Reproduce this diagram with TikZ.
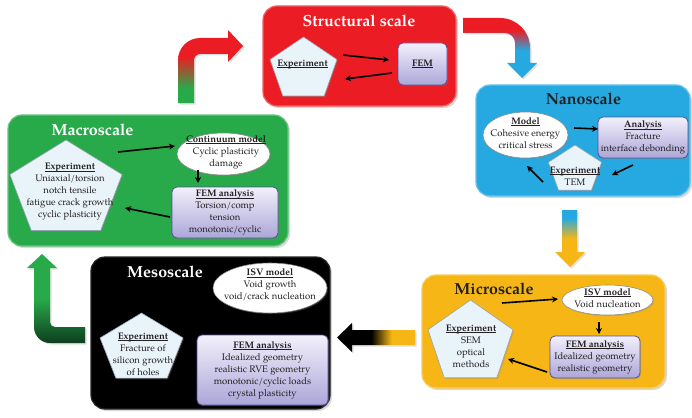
\documentclass[tikz,border=0pt]{standalone}
\usepackage{fontspec}
\setmainfont{TeX Gyre Pagella}
\usetikzlibrary{shapes.geometric,arrows.meta,shadows}

\definecolor{ink}{RGB}{35,31,32}
\definecolor{redS}{RGB}{236,28,36}
\definecolor{blueS}{RGB}{38,169,224}
\definecolor{greenS}{RGB}{40,170,74}
\definecolor{darkgreenS}{RGB}{14,62,30}
\definecolor{yellowS}{RGB}{246,182,22}
\definecolor{pentfill}{RGB}{232,243,250}
\definecolor{pentline}{RGB}{150,162,175}
\definecolor{femtop}{RGB}{242,240,252}
\definecolor{fembot}{RGB}{172,166,216}
\definecolor{femline}{RGB}{85,80,155}

% colour ramps for the thick transition arrows
\pgfdeclareverticalshading{greenred}{100bp}{color(0bp)=(greenS); color(35bp)=(greenS); color(57bp)=(redS); color(100bp)=(redS)}
\pgfdeclareverticalshading{redblue}{100bp}{color(0bp)=(blueS); color(48bp)=(blueS); color(65bp)=(redS); color(100bp)=(redS)}
\pgfdeclareverticalshading{blueyellow}{100bp}{color(0bp)=(yellowS); color(50bp)=(yellowS); color(68bp)=(blueS); color(100bp)=(blueS)}
\pgfdeclarehorizontalshading{blackyellow}{100bp}{color(0bp)=(black); color(47bp)=(black); color(60bp)=(yellowS); color(100bp)=(yellowS)}
\pgfdeclareverticalshading{greendark}{100bp}{color(0bp)=(darkgreenS); color(25bp)=(darkgreenS); color(50bp)=(greenS); color(100bp)=(greenS)}

% bold heading with an underline just below the baseline
\newsavebox{\hdbox}
\newcommand{\headln}[1]{\sbox{\hdbox}{\textbf{#1}}\rlap{\rule[-1.6pt]{\wd\hdbox}{0.6pt}}\usebox{\hdbox}}
% pentagon: centre x, centre y, x radius, y radius
\newcommand{\pentshape}[4]{%
  \filldraw[pentstyle, shift={(#1,#2)}] (270:#3 and #4) -- (342:#3 and #4) -- (54:#3 and #4)
    -- (126:#3 and #4) -- (198:#3 and #4) -- cycle;}

\begin{document}
\begin{tikzpicture}[x=1pt,y=-1pt,
  scalebox/.style={rectangle, rounded corners=14pt, line width=1.2pt, inner sep=0pt,
    drop shadow={opacity=0.3, shadow xshift=2pt, shadow yshift=-2pt}},
  titletext/.style={font=\fontsize{16}{18}\selectfont\bfseries, inner sep=0pt},
  txt/.style={font=\fontsize{9.5}{12}\selectfont, text=ink, align=center, inner sep=0pt},
  fembox/.style={rectangle, rounded corners=5pt, draw=femline, line width=0.8pt,
    top color=femtop, bottom color=fembot, align=center, inner sep=0pt,
    font=\fontsize{9.5}{12}\selectfont, text=ink,
    drop shadow={opacity=0.3, shadow xshift=1.2pt, shadow yshift=-1.2pt}},
  modelell/.style={ellipse, fill=white, draw=black!45, line width=0.6pt, inner sep=0pt,
    drop shadow={opacity=0.25, shadow xshift=1.2pt, shadow yshift=-1.2pt}},
  pentstyle/.style={fill=pentfill, draw=pentline, line width=0.6pt,
    drop shadow={opacity=0.25, shadow xshift=1.2pt, shadow yshift=-1.2pt}},
  bigarrow/.style={drop shadow={opacity=0.25, shadow xshift=1.5pt, shadow yshift=-1.5pt}},
  link/.style={line width=1.6pt, draw=black, -{Stealth[length=6pt,width=6pt]}}
]
\fill[white] (0,0) rectangle (692,417);
\useasboundingbox (0,0) rectangle (692,417);

% ---------- transition arrows between scales ----------
\shade[shading=greenred, bigarrow] (178,103) -- (178,60) .. controls (178,47.9) and (187.9,38) .. (200,38)
  -- (228,38) -- (228,30) -- (243,46) -- (228,62) -- (228,54) -- (200,54)
  .. controls (196.7,54) and (194,57.3) .. (194,60) -- (194,103) -- cycle;
\shade[shading=redblue, bigarrow] (463,18) -- (500,18) .. controls (516.6,18) and (530,31.4) .. (530,48)
  -- (530,63) -- (537,63) -- (522,78) -- (507,63) -- (515,63) -- (515,43)
  .. controls (515,37.5) and (510.5,33) .. (505,33) -- (463,33) -- cycle;
\shade[shading=blueyellow, bigarrow] (562,210) -- (577,210) -- (577,252) -- (585,252) -- (570,267)
  -- (555,252) -- (562,252) -- cycle;
\shade[shading=blackyellow, bigarrow] (415,330) -- (352,330) -- (352,323) -- (337,337.5) -- (352,352)
  -- (352,345) -- (415,345) -- cycle;
\shade[shading=greendark, bigarrow] (42,254) -- (57,268) -- (50,268) -- (50,322)
  .. controls (50,324.8) and (52.2,327) .. (55,327) -- (85,327) -- (85,343) -- (50,343)
  .. controls (41.2,343) and (34,335.8) .. (34,327) -- (34,268) -- (27,268) -- cycle;

% ---------- structural scale ----------
\node[scalebox, fill=redS, draw=redS!70!white, minimum width=193pt, minimum height=100pt] (stBox) at (359.5,56) {};
\node[titletext, text=white] (stTitle) at (359,21) {Structural scale};
\pentshape{303.5}{69.6}{35.2}{32.6}
\node[txt] (stExp) at (302.5,64) {\headln{Experiment}};
\node[fembox, minimum width=49pt, minimum height=42pt] (stFEM) at (422.5,64) {\headln{FEM}};
\draw[link] ([shift={(40.5,-9)}]stExp.center) -- ([shift={(-33.5,-4)}]stFEM.center);
\draw[link] ([shift={(-30.5,9)}]stFEM.center) -- ([shift={(42.5,15)}]stExp.center);

% ---------- nanoscale ----------
\node[scalebox, fill=blueS, draw=blueS!70!white, minimum width=214pt, minimum height=111pt] (naBox) at (583,140.5) {};
\node[titletext, text=ink] (naTitle) at (583.5,99) {Nanoscale};
\node[modelell, minimum width=85pt, minimum height=46pt] (naModel) at (525.5,135) {};
\node[txt] (naModelTxt) at (525.5,133) {\headln{Model}\\Cohesive energy\\critical stress};
\node[fembox, minimum width=90pt, minimum height=41pt] (naAna) at (643,137.5) {\headln{Analysis}\\Fracture\\interface debonding};
\pentshape{575}{170}{28}{25}
\node[txt] (naExp) at (575,176) {\headln{Experiment}\\TEM};
\draw[link] ([shift={(48.5,-7)}]naModel.center) -- ([shift={(-45,-8.5)}]naAna.center);
\draw[link] ([shift={(-10,27.5)}]naAna.center) -- ([shift={(37,-1)}]naExp.center);
\draw[link] ([shift={(-32,6)}]naExp.center) -- ([shift={(1.5,31)}]naModel.center);

% ---------- macroscale ----------
\node[scalebox, fill=greenS, draw=greenS!70!white, minimum width=280pt, minimum height=131pt] (maBox) at (148,180.5) {};
\node[titletext, text=white] (maTitle) at (92.5,130) {Macroscale};
\pentshape{66}{190}{59}{50}
\node[txt] (maExp) at (70,192) {\headln{Experiment}\\Uniaxial/torsion\\notch tensile\\fatigue crack growth\\cyclic plasticity};
\node[modelell, minimum width=93pt, minimum height=42pt] (maModel) at (223.5,154) {};
\node[txt] (maModelTxt) at (226,152) {\headln{Continuum model}\\Cyclic plasticity\\damage};
\node[fembox, minimum width=106pt, minimum height=51pt] (maFEM) at (225,212.5) {\headln{FEM analysis}\\Torsion/comp\\tension\\monotonic/cyclic};
\draw[link] ([shift={(48,-40)}]maExp.center) -- ([shift={(-48.5,-8)}]maModel.center);
\draw[link] ([shift={(-25.5,16)}]maModel.center) -- ([shift={(-27,-29.5)}]maFEM.center);
\draw[link] ([shift={(-55,4.5)}]maFEM.center) -- ([shift={(55,16)}]maExp.center);

% ---------- mesoscale ----------
\node[scalebox, fill=black, draw=black!85, minimum width=239pt, minimum height=152pt] (meBox) at (210.5,333) {};
\node[titletext, text=white] (meTitle) at (165,272) {Mesoscale};
\node[modelell, minimum width=114pt, minimum height=50pt] (meModel) at (270,288) {};
\node[txt] (meModelTxt) at (270,285) {\headln{ISV model}\\Void growth\\void/crack nucleation};
\pentshape{141.5}{349}{43.6}{36}
\node[txt] (meExp) at (143,354) {\headln{Experiment}\\Fracture of\\silicon growth\\of holes};
\node[fembox, minimum width=131pt, minimum height=70pt] (meFEM) at (262.5,370) {\headln{FEM analysis}\\Idealized geometry\\realistic RVE geometry\\monotonic/cyclic loads\\crystal plasticity};

% ---------- microscale ----------
\node[scalebox, fill=yellowS, draw=yellowS!70!white, minimum width=243pt, minimum height=113pt] (miBox) at (543.5,331.5) {};
\node[titletext, text=ink] (miTitle) at (494,289) {Microscale};
\node[modelell, minimum width=91pt, minimum height=30pt] (miModel) at (607.5,300) {};
\node[txt] (miModelTxt) at (607.5,298) {\headln{ISV model}\\Void nucleation};
\pentshape{470.5}{343}{44.7}{43}
\node[txt] (miExp) at (471,346) {\headln{Experiment}\\SEM\\optical\\methods};
\node[fembox, minimum width=90pt, minimum height=42pt] (miFEM) at (595,357) {\headln{FEM analysis}\\Idealized geometry\\realistic geometry};
\draw[link] ([shift={(31,-43)}]miExp.center) -- ([shift={(-49.5,-1)}]miModel.center);
\draw[link] ([shift={(-8.5,22)}]miModel.center) -- ([shift={(4,-23)}]miFEM.center);
\draw[link] ([shift={(-48,15)}]miFEM.center) -- ([shift={(37,13)}]miExp.center);
\end{tikzpicture}
\end{document}
